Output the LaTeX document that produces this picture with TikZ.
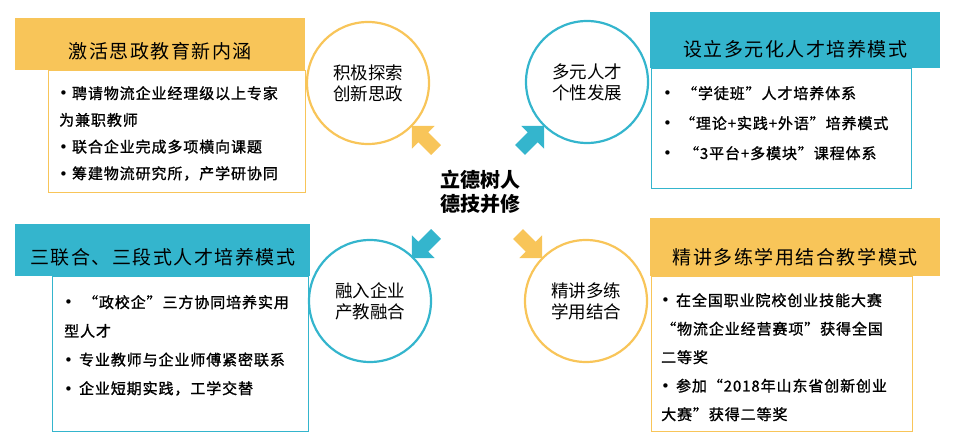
\documentclass[tikz,border=0pt]{standalone}
\usepackage{fontspec}
\setmainfont{Noto Sans CJK SC}
\newfontfamily\hdrfont[LetterSpace=8]{Noto Sans CJK SC}
\newfontfamily\bodyfont[LetterSpace=6,FakeBold=1.2]{Noto Sans CJK SC}
\newfontfamily\dotfont{DejaVu Sans}
\newcommand\bul{{\dotfont •}}
\definecolor{goldY}{RGB}{248,197,89}
\definecolor{tealB}{RGB}{52,181,205}

\begin{document}
\begin{tikzpicture}[
    x=1pt,
    y=-1pt,
    hdrbar/.style={rectangle,inner sep=0,minimum width=290,text depth=11.5,
      anchor=north west,font=\hdrfont\fontsize{19}{22}\selectfont},
    bodybox/.style={rectangle,draw,line width=1,inner sep=0,anchor=north west},
    bodytext/.style={anchor=north west,inner sep=0,align=left},
    ring/.style={circle,draw,line width=2.2,minimum size=122,inner sep=0,
      align=center,font=\fontsize{17.5}{21}\selectfont},
    blockarrow/.pic={\fill (0,-7) -- (18,-7) -- (18,-16) -- (34,0)
      -- (18,16) -- (18,7) -- (0,7) -- cycle;}
  ]
    \useasboundingbox (0,0) rectangle (957,446);

    % body boxes
    \node[bodybox,draw=goldY,minimum width=257,minimum height=122] (boxTL) at (48,70) {};
    \node[bodybox,draw=tealB,minimum width=260,minimum height=120] (boxTR) at (651,68) {};
    \node[bodybox,draw=tealB,minimum width=256,minimum height=155] (boxBL) at (52,276) {};
    \node[bodybox,draw=goldY,minimum width=261,minimum height=155] (boxBR) at (651,276) {};

    % headers
    \node[hdrbar,fill=goldY,text height=40.5] (hdrTL) at (15,18) {激活思政教育新内涵};
    \node[hdrbar,fill=tealB,text height=44.5] (hdrTR) at (650,12) {设立多元化人才培养模式};
    \node[hdrbar,fill=tealB,text height=40.5,minimum width=295] (hdrBL) at (15,224) {三联合、三段式人才培养模式};
    \node[hdrbar,fill=goldY,text height=46.5] (hdrBR) at (650,218) {精讲多练学用结合教学模式};

    % body texts
    \node[bodytext,font=\bodyfont\fontsize{15}{26.7}\selectfont] (txtTL) at (59,86)
      {\bul\hspace{4pt}聘请物流企业经理级以上专家\\
       为兼职教师\\
       \bul\hspace{4pt}联合企业完成多项横向课题\\
       \bul\hspace{4pt}筹建物流研究所，产学研协同};
    \node[bodytext,font=\bodyfont\fontsize{15}{30}\selectfont] (txtTR) at (663,86)
      {\bul\hspace{10pt}“学徒班”人才培养体系\\
       \bul\hspace{8pt}“理论+实践+外语”培养模式\\
       \bul\hspace{12pt}“3平台+多模块”课程体系};
    \node[bodytext,font=\bodyfont\fontsize{15}{28.7}\selectfont] (txtBL) at (64,295)
      {\bul\hspace{10pt}“政校企”三方协同培养实用\\
       型人才\\
       \bul\hspace{6pt}专业教师与企业师傅紧密联系\\
       \bul\hspace{6pt}企业短期实践，工学交替};
    \node[bodytext,font=\bodyfont\fontsize{15}{28.5}\selectfont] (txtBR) at (661,293)
      {\bul\hspace{6pt}在全国职业院校创业技能大赛\\
       “物流企业经营赛项”获得全国\\
       二等奖\\
       \bul\hspace{6pt}参加“2018年山东省创新创业\\
       大赛”获得二等奖};

    % circles
    \node[ring,draw=goldY] (ringTL) at (368,83) {积极探索\\创新思政};
    \node[ring,draw=tealB] (ringTR) at (587,82) {多元人才\\个性发展};
    \node[ring,draw=tealB] (ringBL) at (370,301) {融入企业\\产教融合};
    \node[ring,draw=goldY] (ringBR) at (586,301) {精讲多练\\学用结合};

    % centre
    \node[align=center,inner sep=0,font=\bfseries\fontsize{20}{24}\selectfont]
      (core) at (480,192) {立德树人\\德技并修};

    % arrows
    \pic[fill=goldY,rotate=135] at (436,150) {blockarrow};
    \pic[fill=tealB,rotate=45] at (520,150) {blockarrow};
    \pic[fill=tealB,rotate=225] at (436,234) {blockarrow};
    \pic[fill=goldY,rotate=-45] at (518,234) {blockarrow};
  \end{tikzpicture}
\end{document}
